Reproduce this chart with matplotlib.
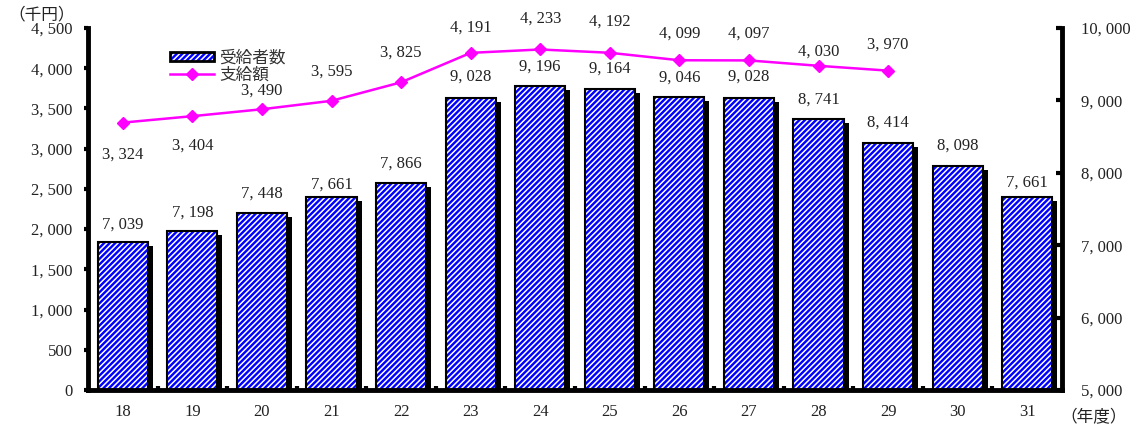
import matplotlib
matplotlib.use('Agg')
import matplotlib.pyplot as plt
import matplotlib.transforms as mtransforms
from matplotlib.patches import Patch
from matplotlib.lines import Line2D
from matplotlib.legend_handler import HandlerTuple
import numpy as np

plt.rcParams['font.family'] = ['Liberation Serif', 'Noto Sans CJK JP']
plt.rcParams['hatch.linewidth'] = 1.1

# 年度
years = ['18', '19', '20', '21', '22', '23', '24', '25', '26', '27', '28', '29', '30', '31']
# 受給者数 (right axis)
recipients = [7039, 7198, 7448, 7661, 7866, 9028, 9196, 9164, 9046, 9028, 8741, 8414, 8098, 7661]
# 支給額 (left axis, 千円)
payments = [3324, 3404, 3490, 3595, 3825, 4191, 4233, 4192, 4099, 4097, 4030, 3970]

# label offsets in pixels
pay_off = [32, 29, -19, -29, -30, -25, -31, -31, -27, -27, -14, -26]
rec_off = [-18, -18, -19, -13, -19, -22, -20, -20, -19, -22, -20, -20, -20, -15]

BLUE = '#0000ff'
MAG = '#ff00ff'
TXT = '#222222'
HATCH = '//////'

def fmt(v):
    return f'{v:,}'.replace(',', ', ')

fig = plt.figure(figsize=(11.31, 4.26), dpi=100)
ax = fig.add_axes([88/1131, 36/426, (1062-88)/1131, 362/426])
ax2 = ax.twinx()
ax.set_zorder(ax2.get_zorder() + 1)
ax.patch.set_visible(False)

x = np.arange(len(years))
w = 0.72
h = np.array(recipients) - 5000

# shadow
shadow = mtransforms.offset_copy(ax2.transData, fig=fig, x=5, y=-4, units='dots')
ax2.bar(x, h, w, bottom=5000, color='black', transform=shadow, zorder=1)
ax2.bar(x, h, w, bottom=5000, facecolor=BLUE, edgecolor='white',
        hatch=HATCH, linewidth=0, zorder=2)
ax2.bar(x, h, w, bottom=5000, fill=False, edgecolor='black',
        linewidth=1.5, zorder=3)
for xi, v, o in zip(x, recipients, rec_off):
    ax2.annotate(fmt(v), (xi, v), xytext=(0, -o), textcoords='offset pixels',
                 ha='center', va='center', fontsize=12, color=TXT)

ax.plot(x[:len(payments)], payments, color=MAG, lw=1.8, marker='D', ms=6.5, zorder=5)
for xi, v, o in zip(x, payments, pay_off):
    ax.annotate(fmt(v), (xi, v), xytext=(0, -o), textcoords='offset pixels',
                ha='center', va='center', fontsize=12, color=TXT)

ax.set_xlim(-0.5, len(years) - 0.5)
ax.set_ylim(0, 4500)
ax2.set_ylim(5000, 10000)

ax.set_yticks(np.arange(0, 4501, 500))
ax.set_yticklabels([fmt(v) for v in range(0, 4501, 500)], fontsize=12, color=TXT)
ax2.set_yticks(np.arange(5000, 10001, 1000))
ax2.set_yticklabels([fmt(v) for v in range(5000, 10001, 1000)], fontsize=12, color=TXT)

ax.set_xticks(x)
ax.set_xticklabels(years, fontsize=12, color=TXT)
ax.set_xticks(x[:-1] + 0.5, minor=True)
ax.tick_params(axis='x', which='major', length=0, pad=10)
ax.tick_params(axis='x', which='minor', direction='in', length=3, width=3)
ax.tick_params(axis='y', direction='out', length=3, width=3, pad=8)
ax2.tick_params(axis='y', direction='in', length=4, width=3, pad=14)

for a in (ax, ax2):
    a.spines['top'].set_visible(False)
    for s in ('left', 'right', 'bottom'):
        a.spines[s].set_linewidth(3.5)
ax.spines['right'].set_visible(False)
ax2.spines['left'].set_visible(False)
ax2.spines['bottom'].set_visible(False)

h_bar = (Patch(facecolor=BLUE, edgecolor='white', hatch=HATCH, linewidth=0),
         Patch(fill=False, edgecolor='black', linewidth=2))
h_line = Line2D([], [], color=MAG, lw=1.8, marker='D', ms=6.5)
leg = fig.legend([h_bar, h_line], ['受給者数', '支給額'],
                 handler_map={tuple: HandlerTuple(ndivide=1, pad=0)},
                 loc='upper left', bbox_to_anchor=(162/1131, 1 - 41/426), frameon=False,
                 prop={'family': 'Noto Sans CJK JP', 'size': 12}, handlelength=2.6,
                 handleheight=0.4, handletextpad=0.35, labelspacing=0.0, borderpad=0)
for t in leg.get_texts():
    t.set_color('#333333')

fig.text(8/1131, 1 - 15/426, '（千円）', fontsize=12, family='Noto Sans CJK JP',
         va='center', color=TXT)
fig.text(1060/1131, 1 - 418/426, '（年度）', fontsize=12, family='Noto Sans CJK JP',
         va='center', color=TXT)

fig.savefig('out.png', dpi=100)
